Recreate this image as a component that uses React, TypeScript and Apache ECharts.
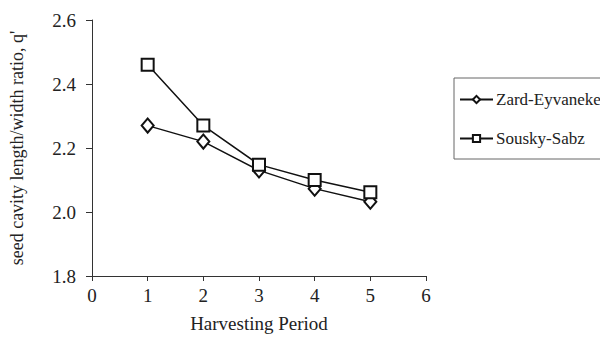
import React, { useEffect, useRef } from "react";
import * as echarts from "echarts";

const periods = [1, 2, 3, 4, 5];
const zardValues = [2.27, 2.22, 2.13, 2.073, 2.032];
const souskyValues = [2.46, 2.27, 2.148, 2.1, 2.062];
const seriesNames = ["Zard-Eyvanekey", "Sousky-Sabz"];
const xTitle = "Harvesting Period";
const yTitle = "seed cavity length/width ratio, q'";

const FONT = "'Liberation Serif', 'Times New Roman', serif";

export default function App() {
  const ref = useRef<HTMLDivElement>(null);
  useEffect(() => {
    if (!ref.current) return;
    const chart = echarts.init(ref.current, undefined, { renderer: "svg" });
    const toPairs = (vals: number[]) => periods.map((p, i) => [p, vals[i]]);
    chart.setOption({
      animation: false,
      backgroundColor: "#ffffff",
      textStyle: { fontFamily: FONT, color: "#222" },
      grid: { left: 92, right: 182, top: 20, bottom: 66, containLabel: false },
      legend: {
        orient: "vertical",
        left: 454,
        top: 78,
        padding: [13, 30, 12, 5],
        itemGap: 22,
        itemWidth: 33,
        itemHeight: 9,
        borderColor: "#666",
        borderWidth: 1,
        textStyle: { fontFamily: FONT, fontSize: 17, color: "#222", padding: [0, 0, 0, -2] },
        data: seriesNames,
      },
      xAxis: {
        type: "value",
        min: 0,
        max: 6,
        interval: 1,
        name: xTitle,
        nameLocation: "middle",
        nameGap: 38,
        nameTextStyle: { fontFamily: FONT, fontSize: 19, color: "#222" },
        axisLine: { lineStyle: { color: "#333", width: 1 } },
        axisTick: { show: true, length: 5, lineStyle: { color: "#333" } },
        axisLabel: { fontFamily: FONT, fontSize: 19, color: "#222", margin: 10 },
        splitLine: { show: false },
      },
      yAxis: {
        type: "value",
        min: 1.8,
        max: 2.6,
        interval: 0.2,
        name: yTitle,
        nameLocation: "middle",
        nameGap: 66,
        nameRotate: 90,
        nameTextStyle: { fontFamily: FONT, fontSize: 18, color: "#222" },
        axisLine: { show: true, lineStyle: { color: "#333", width: 1 } },
        axisTick: { show: true, length: 6, lineStyle: { color: "#333" } },
        axisLabel: {
          fontFamily: FONT,
          fontSize: 19,
          color: "#222",
          margin: 16,
          formatter: (v: number) => v.toFixed(1),
        },
        splitLine: { show: false },
      },
      series: [
        {
          name: seriesNames[0],
          type: "line",
          data: toPairs(zardValues),
          symbol: "emptyDiamond",
          symbolSize: [12, 14],
          lineStyle: { color: "#111", width: 1.5 },
          itemStyle: { color: "#111", borderColor: "#111", borderWidth: 1.5 },
          z: 2,
        },
        {
          name: seriesNames[1],
          type: "line",
          data: toPairs(souskyValues),
          symbol: "emptyRect",
          symbolSize: 12,
          lineStyle: { color: "#111", width: 1.5 },
          itemStyle: { color: "#111", borderColor: "#111", borderWidth: 1.5 },
          z: 3,
        },
      ],
    });
    return () => chart.dispose();
  }, []);
  return <div ref={ref} style={{ width: 608, height: 342, marginLeft: -8, marginTop: -8 }} />;
}
